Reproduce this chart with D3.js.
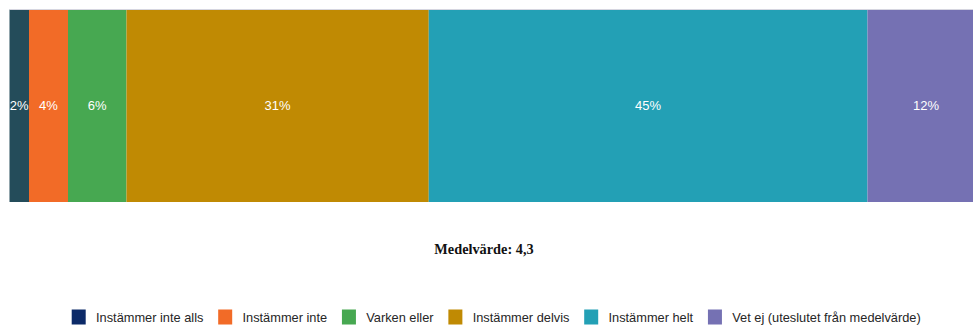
<!DOCTYPE html>
<html>
<head>
<meta charset="utf-8">
<script src="https://cdn.jsdelivr.net/npm/d3@7"></script>
<style>
  html, body { margin: 0; padding: 0; background: #ffffff; }
  svg { display: block; }
</style>
</head>
<body>
<svg id="chart" width="973" height="326"></svg>
<script>
// Response categories, shares (%) and colours
const categories = ["Instämmer inte alls", "Instämmer inte", "Varken eller", "Instämmer delvis", "Instämmer helt", "Vet ej (uteslutet från medelvärde)"];
const shares = [2, 4, 6, 31, 45, 12];
const barColors = ["#244c5a", "#f26b27", "#47a851", "#c08a03", "#23a0b5", "#7571b3"];
const legendColors = ["#0c2a68", "#f26b27", "#47a851", "#c08a03", "#23a0b5", "#7571b3"];
const meanLabel = "Medelvärde: 4,3";

const svg = d3.select("#chart");
const W = 973;

const total = d3.sum(shares);
const x = d3.scaleLinear().domain([0, total]).range([9.5, 984.5]);
const y = d3.scaleBand().domain(["row"]).range([9.5, 202]).padding(0);

const starts = d3.cumsum([0].concat(shares)).slice(0, shares.length);
const segs = shares.map((v, i) => ({ v, i, start: starts[i], end: starts[i] + v }));

const bars = svg.append("g");
bars.selectAll("rect")
  .data(segs)
  .join("rect")
  .attr("x", d => x(d.start))
  .attr("y", y("row"))
  .attr("width", d => x(d.end) - x(d.start))
  .attr("height", y.bandwidth())
  .attr("fill", d => barColors[d.i]);

// thin light rule along the top edge of the bar
svg.append("line")
  .attr("x1", x(0)).attr("x2", W)
  .attr("y1", y("row")).attr("y2", y("row"))
  .attr("stroke", "#d6d6e0").attr("stroke-width", 1);

bars.selectAll("text")
  .data(segs)
  .join("text")
  .attr("x", d => (x(d.start) + x(d.end)) / 2)
  .attr("y", y("row") + y.bandwidth() / 2)
  .attr("dy", "0.35em")
  .attr("text-anchor", "middle")
  .attr("fill", "#ffffff")
  .attr("font-family", "Liberation Sans, Arial, sans-serif")
  .attr("font-size", 13)
  .text(d => d.v + "%");

// mean value caption
svg.append("text")
  .attr("x", 484)
  .attr("y", 249)
  .attr("dy", "0.35em")
  .attr("text-anchor", "middle")
  .attr("font-family", "Liberation Serif, Times New Roman, serif")
  .attr("font-weight", "bold")
  .attr("font-size", 14.3)
  .attr("fill", "#111111")
  .text(meanLabel);

// legend laid out left to right
const legend = svg.append("g");
let cx = 71.7;
const ly = 316.5, sw = 14;
categories.forEach((c, i) => {
  legend.append("rect")
    .attr("x", cx).attr("y", ly - sw / 2)
    .attr("width", sw).attr("height", sw + 1)
    .attr("fill", legendColors[i]);
  const t = legend.append("text")
    .attr("x", cx + sw + 10.3)
    .attr("y", ly + 1)
    .attr("dy", "0.35em")
    .attr("font-family", "Liberation Sans, Arial, sans-serif")
    .attr("font-size", 12.8)
    .attr("fill", "#262626")
    .text(c);
  cx += sw + 10.3 + t.node().getComputedTextLength() + 14.8;
});
</script>
</body>
</html>
